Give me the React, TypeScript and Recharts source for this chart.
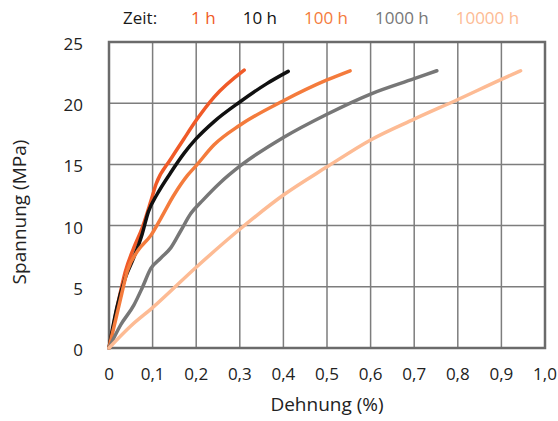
import { LineChart, Line, XAxis, YAxis, CartesianGrid, ReferenceArea, Legend } from 'recharts'

// strain (%) / stress (MPa) pairs per load duration
const strain1h = [0, 0.018, 0.037, 0.057, 0.076, 0.096, 0.108, 0.141, 0.172, 0.2, 0.241, 0.31]
const stress1h = [0, 3.2, 6.2, 8.2, 9.8, 12.0, 13.4, 15.4, 17.1, 18.6, 20.5, 22.7]

const strain10h = [0, 0.018, 0.037, 0.057, 0.076, 0.09, 0.111, 0.141, 0.172, 0.2, 0.241, 0.3, 0.362, 0.411]
const stress10h = [0, 3.3, 5.7, 7.4, 9.3, 11.1, 12.6, 14.3, 15.9, 17.1, 18.5, 20.1, 21.6, 22.6]

const strain100h = [0, 0.027, 0.042, 0.065, 0.096, 0.119, 0.149, 0.18, 0.2, 0.241, 0.3, 0.4, 0.5, 0.553]
const stress100h = [0, 4.1, 6.3, 7.9, 9.2, 10.6, 12.5, 14.1, 14.9, 16.6, 18.2, 20.2, 21.9, 22.65]

const strain1000h = [0, 0.027, 0.057, 0.076, 0.096, 0.119, 0.142, 0.165, 0.188, 0.216, 0.255, 0.3, 0.4, 0.5, 0.6, 0.7, 0.752]
const stress1000h = [0, 1.9, 3.5, 4.9, 6.5, 7.35, 8.2, 9.6, 11.0, 12.1, 13.5, 14.85, 17.2, 19.1, 20.75, 22.0, 22.65]

const strain10000h = [0, 0.05, 0.1, 0.2, 0.3, 0.4, 0.5, 0.6, 0.7, 0.8, 0.9, 0.944]
const stress10000h = [0, 1.8, 3.3, 6.6, 9.7, 12.5, 14.8, 17.0, 18.7, 20.3, 21.95, 22.65]

const xTicks = [0, 0.1, 0.2, 0.3, 0.4, 0.5, 0.6, 0.7, 0.8, 0.9, 1.0]
const yTicks = [0, 5, 10, 15, 20, 25]

const toPoints = (xs: number[], ys: number[]) => xs.map((x, i) => ({ x, y: ys[i] }))

const series = [
  { name: '1 h', color: '#f05a28', data: toPoints(strain1h, stress1h) },
  { name: '10 h', color: '#111111', data: toPoints(strain10h, stress10h) },
  { name: '100 h', color: '#f47b3c', data: toPoints(strain100h, stress100h) },
  { name: '1000 h', color: '#777777', data: toPoints(strain1000h, stress1000h) },
  { name: '10000 h', color: '#fdbb94', data: toPoints(strain10000h, stress10000h) },
]

const FONT = '"Open Sans", sans-serif'

const formatStrain = (v: number) => (v === 0 ? '0' : v.toFixed(1).replace('.', ','))

function TimeLegend() {
  return (
    <div style={{ display: 'flex', fontFamily: FONT, fontSize: 17, lineHeight: '20px' }}>
      <span style={{ color: '#1a1a1a', marginRight: 34 }}>Zeit:</span>
      {series.map(s => (
        <span key={s.name} style={{ color: s.color, marginRight: 27 }}>
          {s.name}
        </span>
      ))}
    </div>
  )
}

export default function App() {
  return (
    <div style={{ position: 'absolute', left: 0, top: 0, background: '#fff' }}>
      <LineChart width={558} height={421} margin={{ top: 42, right: 13, left: 0, bottom: 0 }}>
        <CartesianGrid stroke="#7d7d7d" strokeWidth={1.5} />
        <XAxis
          type="number"
          dataKey="x"
          domain={[0, 1]}
          ticks={xTicks}
          tickFormatter={formatStrain}
          height={73}
          axisLine={false}
          tickLine={false}
          tickSize={0}
          tickMargin={20}
          tick={{ fill: '#222', fontSize: 17, fontFamily: FONT }}
          label={{ value: 'Dehnung (%)', position: 'insideBottom', offset: 10, fill: '#222', fontSize: 19, fontFamily: FONT }}
        />
        <YAxis
          type="number"
          dataKey="y"
          domain={[0, 25]}
          ticks={yTicks}
          width={109}
          axisLine={false}
          tickLine={false}
          tickSize={0}
          tickMargin={26}
          tick={{ fill: '#222', fontSize: 17, fontFamily: FONT, dy: 2 }}
          label={{
            content: () => (
              <text
                x={19}
                y={212}
                transform="rotate(-90 19 212)"
                textAnchor="middle"
                dominantBaseline="central"
                fill="#222"
                fontSize={19}
                fontFamily={FONT}
              >
                Spannung (MPa)
              </text>
            ),
          }}
        />
        <ReferenceArea x1={0} x2={1} y1={0} y2={25} fill="none" stroke="#6b6b6b" strokeWidth={2.5} ifOverflow="visible" />
        <Legend
          verticalAlign="middle"
          align="center"
          wrapperStyle={{ top: 8, left: 123, width: 'auto' }}
          content={() => <TimeLegend />}
        />
        {series.map(s => (
          <Line
            key={s.name}
            name={s.name}
            data={s.data}
            dataKey="y"
            type="monotone"
            stroke={s.color}
            strokeWidth={3.5}
            strokeLinecap="round"
            dot={false}
            isAnimationActive={false}
          />
        ))}
      </LineChart>
    </div>
  )
}
